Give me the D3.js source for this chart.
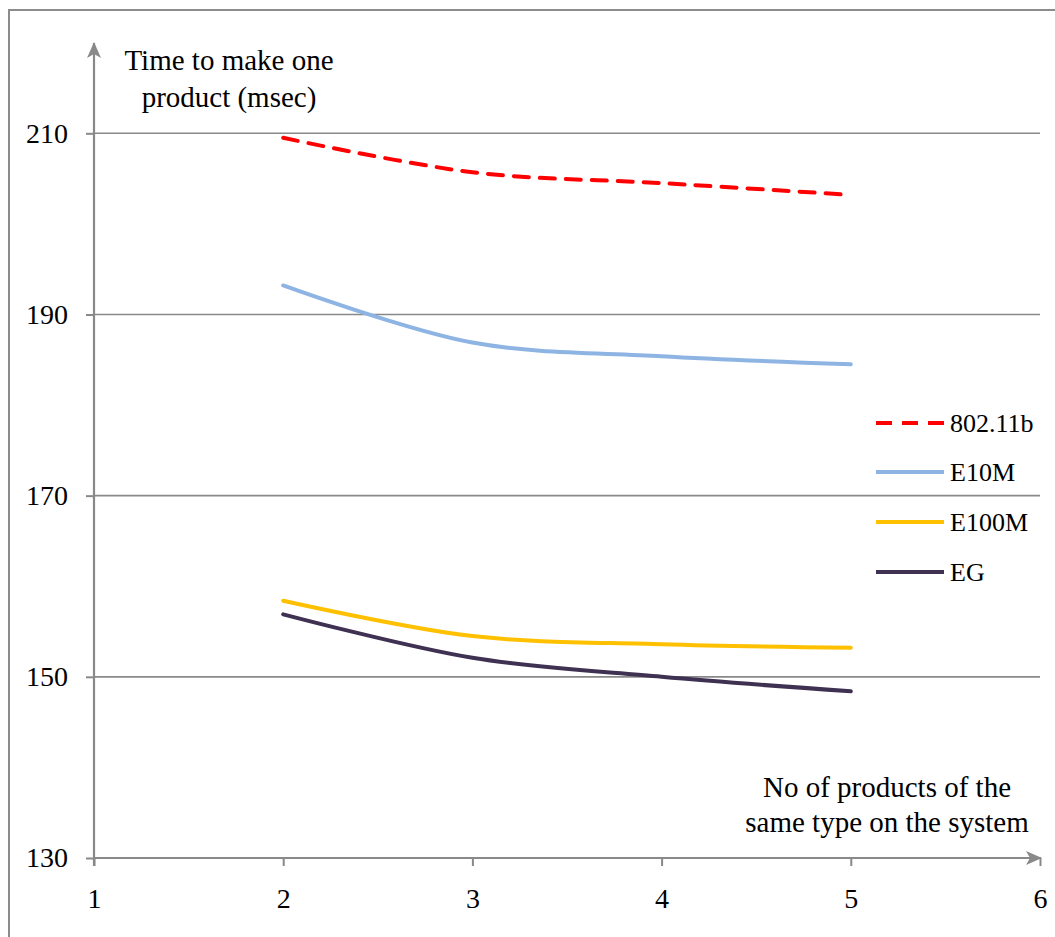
<!DOCTYPE html>
<html>
<head>
<meta charset="utf-8">
<script src="https://cdn.jsdelivr.net/npm/d3@7"></script>
<style>
  html, body { margin: 0; padding: 0; background: #fff; }
  svg { display: block; }
  text { font-family: "Liberation Serif", "Times New Roman", serif; fill: #000; }
</style>
</head>
<body>
<div id="chart"></div>
<script>
// ---- data ----
const categories = [2, 3, 4, 5];
const series80211b = [209.5, 205.7, 204.5, 203.2];
const seriesE10M   = [193.2, 186.9, 185.4, 184.5];
const seriesE100M  = [158.4, 154.5, 153.6, 153.2];
const seriesEG     = [156.9, 152.1, 150.0, 148.4];
const seriesNames  = ["802.11b", "E10M", "E100M", "EG"];
const xTicks = [1, 2, 3, 4, 5, 6];
const yTicks = [130, 150, 170, 190, 210];
const yTitle = ["Time to make one", "product (msec)"];
const xTitle = ["No of products of the", "same type on the system"];

const W = 1055, H = 937;
const svg = d3.select("#chart").append("svg").attr("width", W).attr("height", H);

const x = d3.scaleLinear().domain([1, 6]).range([94, 1040]);
const y = d3.scaleLinear().domain([130, 210]).range([858, 133.3]);
const axisColor = "#898989";

// outer border (left + top)
svg.append("path").attr("d", `M9,${H} L9,10 L${W},10`)
  .attr("fill", "none").attr("stroke", "#8c8c8c").attr("stroke-width", 2);

// arrow marker
const defs = svg.append("defs");
defs.append("marker").attr("id", "arrow")
  .attr("viewBox", "0 0 16 16").attr("refX", 15).attr("refY", 8)
  .attr("markerWidth", 16).attr("markerHeight", 16)
  .attr("markerUnits", "userSpaceOnUse").attr("orient", "auto")
  .append("path").attr("d", "M0,1 L16,8 L0,15 L4,8 Z").attr("fill", axisColor);

// gridlines
svg.append("g").selectAll("line").data(yTicks.filter(d => d !== 130)).join("line")
  .attr("x1", x(1)).attr("x2", x(6))
  .attr("y1", d => y(d)).attr("y2", d => y(d))
  .attr("stroke", axisColor).attr("stroke-width", 1.6);

// y axis
const yAxis = svg.append("g").attr("transform", `translate(${x(1)},0)`)
  .call(d3.axisLeft(y).tickValues(yTicks).tickSizeInner(8).tickSizeOuter(0).tickPadding(18).tickFormat(d3.format("d")));
yAxis.select(".domain").remove();
yAxis.selectAll(".tick line").attr("stroke", axisColor).attr("stroke-width", 2);
yAxis.selectAll(".tick text").attr("font-size", 28).attr("font-family", "Liberation Serif");

// x axis
const xAxis = svg.append("g").attr("transform", `translate(0,${y(130)})`)
  .call(d3.axisBottom(x).tickValues(xTicks).tickSizeInner(8).tickSizeOuter(0).tickPadding(22).tickFormat(d3.format("d")));
xAxis.select(".domain").remove();
xAxis.selectAll(".tick line").attr("stroke", axisColor).attr("stroke-width", 2);
xAxis.selectAll(".tick text").attr("font-size", 28).attr("font-family", "Liberation Serif");

// axis lines with arrows
svg.append("line").attr("x1", x(1)).attr("x2", x(1)).attr("y1", y(130) + 8).attr("y2", 43)
  .attr("stroke", axisColor).attr("stroke-width", 2.2).attr("marker-end", "url(#arrow)");
svg.append("line").attr("x1", x(1)).attr("x2", 1041).attr("y1", y(130)).attr("y2", y(130))
  .attr("stroke", axisColor).attr("stroke-width", 2.2).attr("marker-end", "url(#arrow)");

// series
const seriesData = [
  { name: seriesNames[0], values: series80211b, color: "#FF0000", dash: "15,11" },
  { name: seriesNames[1], values: seriesE10M,   color: "#8EB4E3", dash: null },
  { name: seriesNames[2], values: seriesE100M,  color: "#FFC000", dash: null },
  { name: seriesNames[3], values: seriesEG,     color: "#3F3151", dash: null }
];
const line = d3.line().x(d => x(d[0])).y(d => y(d[1])).curve(d3.curveCatmullRom.alpha(0.5));
svg.append("g").selectAll("path").data(seriesData).join("path")
  .attr("d", s => line(categories.map((c, i) => [c, s.values[i]])))
  .attr("fill", "none").attr("stroke", s => s.color).attr("stroke-width", 4)
  .attr("stroke-linecap", "round")
  .attr("stroke-dasharray", s => s.dash);

// legend
const legendY = [423, 472, 522, 572];
const lg = svg.append("g").selectAll("g").data(seriesData).join("g")
  .attr("transform", (s, i) => `translate(0,${legendY[i]})`);
lg.append("line").attr("x1", 876).attr("x2", 944).attr("y1", 0).attr("y2", 0)
  .attr("stroke", s => s.color).attr("stroke-width", 4)
  .attr("stroke-dasharray", s => s.dash ? "16,10" : null);
lg.append("text").attr("x", 950).attr("y", 0).attr("dy", "0.35em")
  .attr("font-size", 26).text(s => s.name);

// titles
svg.append("g").selectAll("text").data(yTitle).join("text")
  .attr("x", 229).attr("y", (d, i) => 70 + i * 37).attr("text-anchor", "middle")
  .attr("font-size", 29).text(d => d);
svg.append("g").selectAll("text").data(xTitle).join("text")
  .attr("x", 887).attr("y", (d, i) => 797 + i * 35).attr("text-anchor", "middle")
  .attr("font-size", 29).text(d => d);
</script>
</body>
</html>
